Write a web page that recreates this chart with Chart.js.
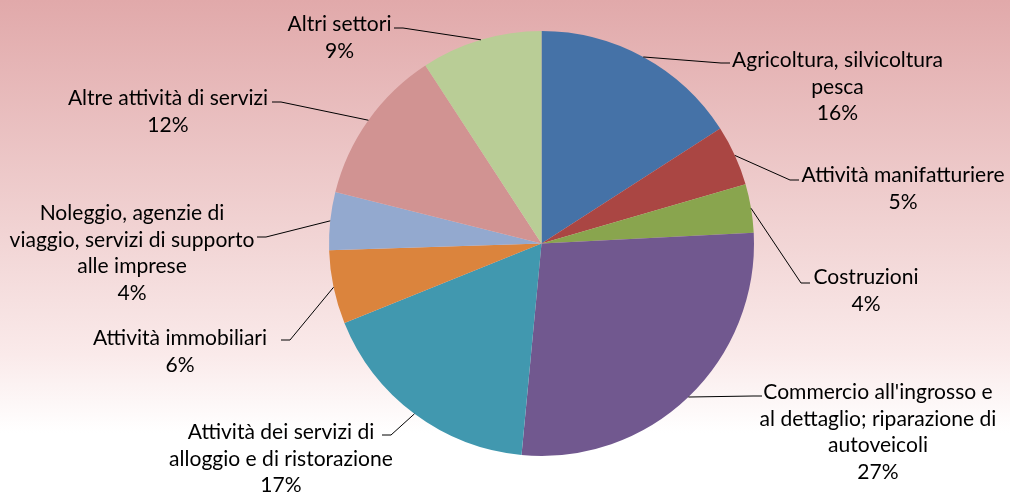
<!DOCTYPE html>
<html>
<head>
<meta charset="utf-8">
<script src="https://cdn.jsdelivr.net/npm/chart.js@4"></script>
<style>
  html, body { margin: 0; padding: 0; background: #fff; }
  #wrap { width: 1010px; height: 492px; }
</style>
</head>
<body>
<div id="wrap"><canvas id="c" width="1010" height="492"></canvas></div>
<script>
// ---- DATA ----
const categories = [
  ["Agricoltura, silvicoltura", "pesca"],
  ["Attività manifatturiere"],
  ["Costruzioni"],
  ["Commercio all'ingrosso e", "al dettaglio; riparazione di", "autoveicoli"],
  ["Attività dei servizi di", "alloggio e di ristorazione"],
  ["Attività immobiliari"],
  ["Noleggio, agenzie di", "viaggio, servizi di supporto", "alle imprese"],
  ["Altre attività di servizi"],
  ["Altri settori"]
];
const shares = [15.9, 4.6, 3.7, 27.3, 17.4, 5.6, 4.4, 11.9, 9.2];

// ---- STYLE ----
const sliceColors = ["#4572A7", "#AA4643", "#89A54E", "#71588F", "#4198AF",
                     "#DB843D", "#93A9CF", "#D19392", "#B9CD96"];
// label layout relative to pie centre: text centre x, first line y, leader attach point, side
const labelLayout = [
  { tx: 296,    ty: -183.5, ax: 188.5,  ay: -180.5, side: 1 },
  { tx: 361.5,  ty: -68.5,  ax: 257.5,  ay: -63.5,  side: 1 },
  { tx: 324.5,  ty: 33.5,   ax: 268.5,  ay: 39.5,   side: 1 },
  { tx: 336.5,  ty: 148.5,  ax: 220.5,  ay: 152.5,  side: 1 },
  { tx: -260.5, ty: 188.5,  ax: -159.5, ay: 191.5,  side: -1 },
  { tx: -361.5, ty: 94.5,   ax: -260.5, ay: 96.5,   side: -1 },
  { tx: -409.5, ty: -30.5,  ax: -284.5, ay: -6.5,   side: -1 },
  { tx: -373.5, ty: -145.5, ax: -269.5, ay: -141.5, side: -1 },
  { tx: -202,   ty: -219.5, ax: -147.5, ay: -215.5, side: -1 }
];
const LINE_H = 26.8;
const FONT_FAMILY = "Lato, 'Open Sans', sans-serif";

const bgPlugin = {
  id: 'bg',
  beforeDraw(chart) {
    const ctx = chart.ctx;
    const g = ctx.createLinearGradient(0, 0, 0, chart.height);
    g.addColorStop(0, '#e1a9aa');
    g.addColorStop(0.5, '#f2d6d6');
    g.addColorStop(0.72, '#faeaea');
    g.addColorStop(0.88, '#ffffff');
    g.addColorStop(1, '#ffffff');
    ctx.save();
    ctx.fillStyle = g;
    ctx.fillRect(0, 0, chart.width, chart.height);
    ctx.restore();
  }
};

const labelPlugin = {
  id: 'pieLabels',
  afterDraw(chart) {
    const ctx = chart.ctx;
    const meta = chart.getDatasetMeta(0);
    const data = chart.data.datasets[0].data;
    const total = data.reduce((a, b) => a + b, 0);
    // fit font size so the widest line matches the reference width
    ctx.save();
    ctx.font = "18px " + FONT_FAMILY;
    const w = ctx.measureText("viaggio, servizi di supporto").width;
    const fs = 18 * 245 / w;
    ctx.font = fs.toFixed(2) + "px " + FONT_FAMILY;
    ctx.fillStyle = "#000";
    ctx.strokeStyle = "#000";
    ctx.lineWidth = 1;
    ctx.textAlign = "center";
    ctx.textBaseline = "middle";
    meta.data.forEach((arc, i) => {
      const p = arc.getProps(['x', 'y', 'startAngle', 'endAngle', 'outerRadius'], true);
      const mid = (p.startAngle + p.endAngle) / 2;
      const sx = p.x + p.outerRadius * Math.cos(mid);
      const sy = p.y + p.outerRadius * Math.sin(mid);
      const L = labelLayout[i];
      const ax = p.x + L.ax, ay = p.y + L.ay;
      const ex = ax - L.side * 9;
      ctx.beginPath();
      ctx.moveTo(sx, sy);
      ctx.lineTo(ex, ay);
      ctx.lineTo(ax, ay);
      ctx.stroke();
      const lines = chart.data.labels[i].concat([Math.round(data[i] / total * 100) + "%"]);
      lines.forEach((t, k) => {
        ctx.fillText(t, p.x + L.tx, p.y + L.ty + k * LINE_H);
      });
    });
    ctx.restore();
  }
};

new Chart(document.getElementById('c'), {
  type: 'pie',
  data: {
    labels: categories,
    datasets: [{
      data: shares,
      backgroundColor: sliceColors,
      borderWidth: 0,
      hoverOffset: 0,
      offset: 0
    }]
  },
  options: {
    responsive: false,
    animation: false,
    events: [],
    layout: { padding: { top: 31, bottom: 36, left: 329, right: 256 } },
    plugins: {
      legend: { display: false },
      tooltip: { enabled: false },
      title: { display: false }
    }
  },
  plugins: [bgPlugin, labelPlugin]
});
</script>
</body>
</html>
